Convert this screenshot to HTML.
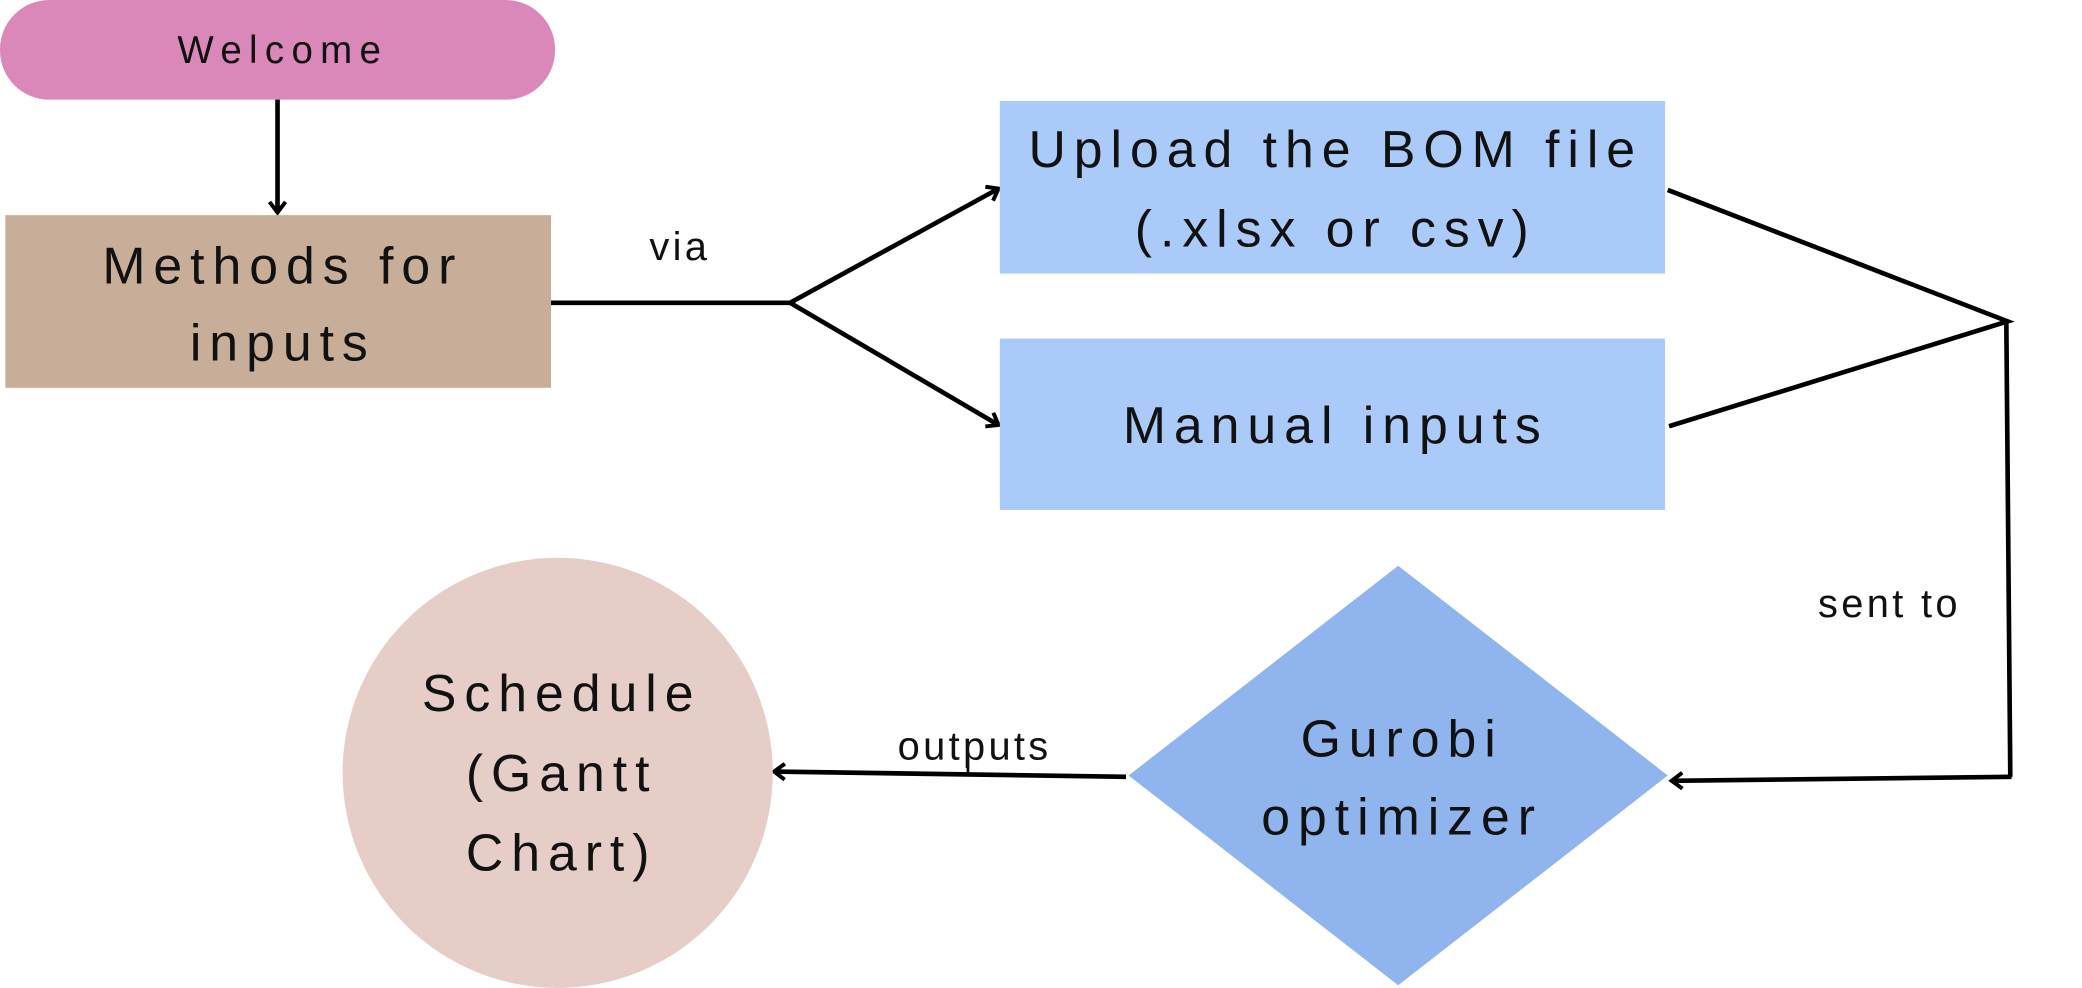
<!DOCTYPE html>
<html><head><meta charset="utf-8"><style>
html,body{margin:0;padding:0;background:#fff;}
svg{display:block;}
text{font-family:"Liberation Sans",sans-serif;fill:#111;text-anchor:middle;dominant-baseline:central;}
.big{font-size:39px;letter-spacing:6px;}
.sm{font-size:30px;letter-spacing:2.5px;}
</style></head><body>
<svg width="2082" height="988" viewBox="0 0 1568 744" xmlns="http://www.w3.org/2000/svg">
<defs>
<marker id="a" markerWidth="14" markerHeight="14" refX="11" refY="7" orient="auto" markerUnits="userSpaceOnUse">
<path d="M3,1 L11,7 L3,13" fill="none" stroke="#000" stroke-width="3"/>
</marker>
</defs>
<rect x="0" y="0" width="418" height="75" rx="37" fill="#DA88BA"/>
<text x="213" y="38" class="sm" style="letter-spacing:5.5px;font-size:29px">Welcome</text>
<line x1="209" y1="75" x2="209" y2="160" stroke="#000" stroke-width="3.5" marker-end="url(#a)"/>
<rect x="4" y="162" width="411" height="130" fill="#C8AE98"/>
<text x="213" y="200" class="big">Methods for</text>
<text x="213" y="258" class="big">inputs</text>
<line x1="415" y1="228" x2="595" y2="228" stroke="#000" stroke-width="3.5"/>
<text x="512" y="186" class="sm">via</text>
<line x1="595" y1="228" x2="752" y2="142" stroke="#000" stroke-width="3.5" marker-end="url(#a)"/>
<line x1="595" y1="228" x2="752" y2="320" stroke="#000" stroke-width="3.5" marker-end="url(#a)"/>
<rect x="753" y="76" width="501" height="130" fill="#AACAF9"/>
<text x="1006" y="112" class="big">Upload the BOM file</text>
<text x="1006" y="172" class="big">(.xlsx or csv)</text>
<rect x="753" y="255" width="501" height="129" fill="#AACAF9"/>
<text x="1006" y="320" class="big">Manual inputs</text>
<polyline points="1256,143 1512,242 1257,321" fill="none" stroke="#000" stroke-width="3.5"/>
<line x1="1511" y1="242" x2="1514" y2="585" stroke="#000" stroke-width="3.5"/>
<line x1="1515" y1="585" x2="1259" y2="588" stroke="#000" stroke-width="3.5" marker-end="url(#a)"/>
<text x="1423" y="455" class="sm">sent to</text>
<polygon points="1053,426 1256,584 1053,742 850,584" fill="#8FB4EE"/>
<text x="1056" y="556" class="big">Gurobi</text>
<text x="1056" y="615" class="big">optimizer</text>
<line x1="848" y1="585" x2="583" y2="581" stroke="#000" stroke-width="3.5" marker-end="url(#a)"/>
<line x1="729" y1="570" x2="729" y2="582" stroke="#000" stroke-width="2"/>
<text x="734" y="562" class="sm">outputs</text>
<circle cx="420" cy="582" r="162" fill="#E7CDC8"/>
<text x="423" y="522" class="big">Schedule</text>
<text x="423" y="582" class="big">(Gantt</text>
<text x="423" y="642" class="big">Chart)</text>
</svg>
</body></html>
